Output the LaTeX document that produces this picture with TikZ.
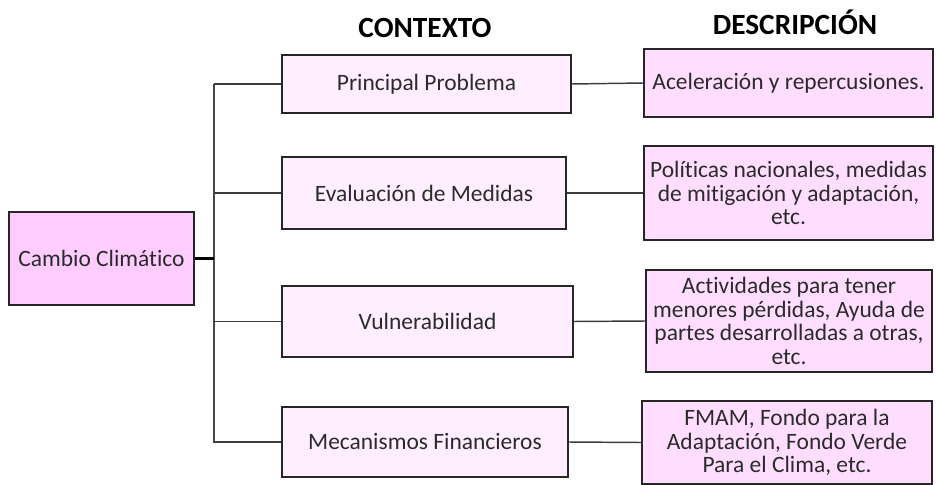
\documentclass[tikz,border=0pt]{standalone}
\usepackage{fontspec}
\setmainfont{Carlito}[Ligatures={NoCommon}]
\newcommand{\pxl}[1]{#1*0.75pt}
\definecolor{rootfill}{HTML}{FFCCFF}
\definecolor{ctxfill}{HTML}{FFEEFF}
\definecolor{descfill}{HTML}{FFDDFF}
\definecolor{edge}{HTML}{262626}
\definecolor{txt}{HTML}{2B2B2B}
\tikzset{
  box/.style={draw=edge, line width=1.1pt, rectangle, inner sep=0pt, align=center,
    text=txt, font=\fontsize{17.6}{17.8}\selectfont},
  rootbox/.style={box, fill=rootfill},
  ctxbox/.style={box, fill=ctxfill},
  descbox/.style={box, fill=descfill},
  header/.style={font=\fontsize{22}{25}\selectfont\bfseries, text=black, inner sep=0pt},
  link/.style={draw=edge!90, line width=1.1pt},
  trunkline/.style={draw=edge!85, line width=1.6pt},
  rootlink/.style={draw=black, line width=2.2pt}
}
\begin{document}
\begin{tikzpicture}[x=0.75pt,y=-0.75pt]
\useasboundingbox (0,0) rectangle (936,485);
\node[header] (hctx) at (425,28) {CONTEXTO};
\node[header] (hdesc) at (795,22) {DESCRIPCIÓN};

\node[rootbox, minimum width=\pxl{185}, minimum height=\pxl{93}] (cc) at (101.5,258.5) {Cambio Climático};

\node[ctxbox, minimum width=\pxl{289}, minimum height=\pxl{58}] (p1) at (426.5,84) {Principal Problema};
\node[ctxbox, minimum width=\pxl{284}, minimum height=\pxl{72}] (p2) at (424,193) {Evaluación de Medidas};
\node[ctxbox, minimum width=\pxl{291}, minimum height=\pxl{71}] (p3) at (427.5,321.5) {Vulnerabilidad};
\node[ctxbox, minimum width=\pxl{286}, minimum height=\pxl{70}] (p4) at (425,442) {Mecanismos Financieros};

\node[descbox, minimum width=\pxl{289}, minimum height=\pxl{68}] (d1) at (788.5,83) {Aceleración y repercusiones.};
\node[descbox, minimum width=\pxl{289}, minimum height=\pxl{94}] (d2) at (788.5,193) {Políticas nacionales, medidas\\de mitigación y adaptación,\\etc.};
\node[descbox, minimum width=\pxl{286}, minimum height=\pxl{102}] (d3) at (789,321) {Actividades para tener\\menores pérdidas, Ayuda de\\partes desarrolladas a otras,\\etc.};
\node[descbox, minimum width=\pxl{290}, minimum height=\pxl{83}] (d4) at (787,442.5) {FMAM, Fondo para la\\Adaptación, Fondo Verde\\Para el Clima, etc.};

\coordinate (t1) at (214,84);
\coordinate (t4) at (214,443);

\draw[trunkline] (t1) -- (t4);
\draw[link] (t1) -- (p1.west);
\draw[link] (p2.west -| t1) -- (p2.west);
\draw[link] (p3.west -| t1) -- (p3.west);
\draw[link] (p4.west -| t1) -- (p4.west);
\draw[rootlink] (cc.east) -- (cc.east -| t1);

\draw[link] (p1.east) -- (d1.west);
\draw[link] (p2.east) -- (d2.west);
\draw[link] (p3.east) -- (d3.west);
\draw[link] (p4.east) -- (d4.west);
\end{tikzpicture}
\end{document}
